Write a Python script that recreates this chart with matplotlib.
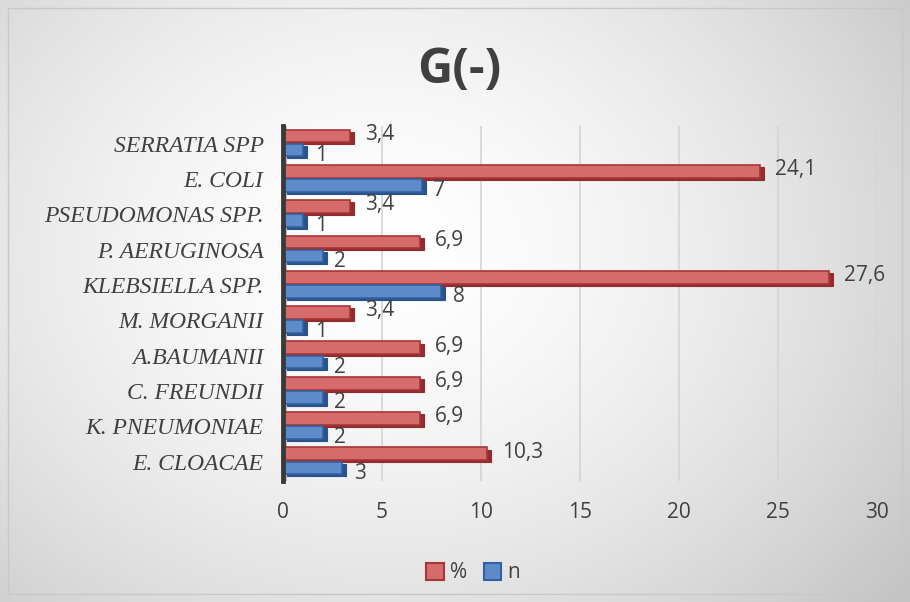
import numpy as np
import matplotlib
matplotlib.use("Agg")
import matplotlib.pyplot as plt
from matplotlib.patches import Rectangle, Patch

categories = ["E. CLOACAE", "K. PNEUMONIAE", "C. FREUNDII", "A.BAUMANII", "M. MORGANII",
              "KLEBSIELLA SPP.", "P. AERUGINOSA", "PSEUDOMONAS SPP.", "E. COLI", "SERRATIA SPP"]
pct = [10.3, 6.9, 6.9, 6.9, 3.4, 27.6, 6.9, 3.4, 24.1, 3.4]
n = [3, 2, 2, 2, 1, 8, 2, 1, 7, 1]
xticks = [0, 5, 10, 15, 20, 25, 30]

W, H = 910, 602
fig = plt.figure(figsize=(W / 100, H / 100), dpi=100)

# background radial gradient
bg = fig.add_axes([0, 0, 1, 1], zorder=-10)
yy, xx = np.mgrid[0:H, 0:W]
r = np.sqrt(((xx - W * 0.42) / (W * 0.6)) ** 2 + ((yy - H * 0.42) / (H * 0.75)) ** 2)
val = 1.0 - 0.17 * np.clip(r, 0, 1.2) ** 1.6
img = np.dstack([val, val, val])
bg.imshow(img, extent=[0, W, H, 0], aspect="auto")
bg.add_patch(Rectangle((8, 8), W - 16, H - 16, fill=False, edgecolor="#c8c8c8", lw=1))
bg.set_xlim(0, W)
bg.set_ylim(H, 0)
bg.axis("off")

left, right, top, bottom = 283, 877, 126, 481
ax = fig.add_axes([left / W, 1 - bottom / H, (right - left) / W, (bottom - top) / H])
ax.patch.set_alpha(0)

y = np.arange(len(categories))
h = 0.36
red_face, red_edge, red_dark = "#d66b6c", "#a83538", "#922c2f"
blue_face, blue_edge, blue_dark = "#5d8bca", "#33609f", "#2a528c"

dx, dy = 0.2, 0.06
lab_font = dict(fontsize=15, color="#404040", family="Open Sans", zorder=6)
# red (%) bars above, blue (n) below
for yi, v in zip(y, pct):
    yc = yi + 0.22
    ax.barh(yc - dy, v, left=dx, height=h, color=red_dark, edgecolor=red_dark, lw=0.8, zorder=3)
    ax.barh(yc, v, height=h, color=red_face, edgecolor=red_edge, lw=1.2, zorder=4)
    ax.text(v + 0.75, yc + 0.05, f"{v:.1f}".replace(".", ","), va="center", ha="left", **lab_font)
for yi, v in zip(y, n):
    yc = yi - 0.18
    ax.barh(yc - dy, v, left=dx, height=h, color=blue_dark, edgecolor=blue_dark, lw=0.8, zorder=3)
    ax.barh(yc, v, height=h, color=blue_face, edgecolor=blue_edge, lw=1.2, zorder=4)
    ax.text(v + 0.6, yc - 0.15, f"{v}", va="center", ha="left", **lab_font)

ax.set_xlim(0, 30)
ax.set_ylim(-0.55, 9.5)
ax.set_xticks(xticks)
ax.set_xticklabels([str(t) for t in xticks], fontsize=15, color="#404040", family="Open Sans")
ax.tick_params(axis="x", length=0, pad=15)
ax.set_yticks(y)
ax.set_yticklabels(categories, fontsize=17, style="italic", family="Liberation Serif", color="#404040")
ax.tick_params(axis="y", length=0, pad=14)
ax.grid(axis="x", color="#d4d4d4", lw=1.2, zorder=0)
ax.set_axisbelow(True)
for s in ["top", "right", "bottom"]:
    ax.spines[s].set_visible(False)
ax.spines["left"].set_color("#3a3a3a")
ax.spines["left"].set_linewidth(3.5)
ax.spines["left"].set_zorder(7)
# wall shading
ax.axvspan(0, 0.2, color="#b8b8b8", zorder=1, lw=0)

fig.text(0.505, 1 - 70 / H, "G(-)", ha="center", va="center", fontsize=35, fontweight="bold",
         color="#404040", family="Open Sans")

handles = [Patch(facecolor=red_face, edgecolor=red_edge, lw=1.5, label="%"),
           Patch(facecolor=blue_face, edgecolor=blue_edge, lw=1.5, label="n")]
fig.legend(handles=handles, loc="center", bbox_to_anchor=(0.52, 1 - 573 / H), ncol=2,
           frameon=False, handlelength=0.85, handleheight=0.85,
           handletextpad=0.3, columnspacing=0.8, labelcolor="#404040",
           prop={"family": "Open Sans", "size": 15})

fig.savefig("out.png", dpi=100)
